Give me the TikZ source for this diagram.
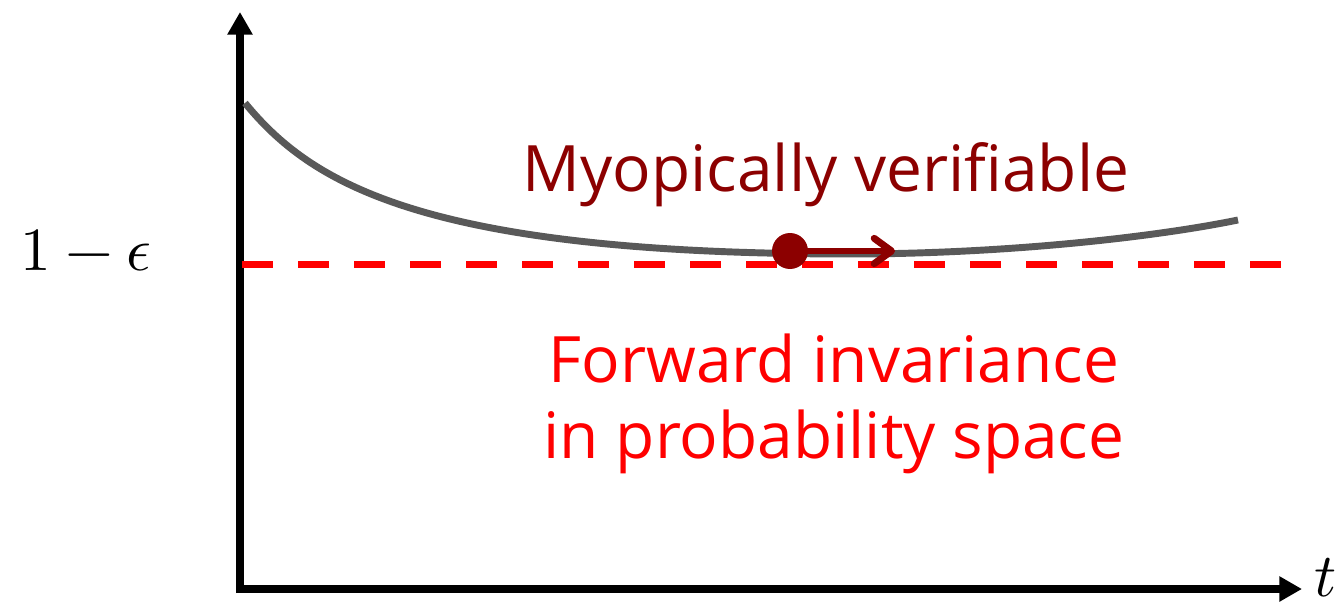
\documentclass[tikz,border=0pt]{standalone}
\usepackage{fontspec}
\usepackage{unicode-math}
\setmainfont{Open Sans}
\setmathfont{Latin Modern Math}
\usetikzlibrary{arrows.meta}
\definecolor{darkred}{RGB}{140,0,0}
\definecolor{curvegray}{RGB}{89,89,89}
\definecolor{brightred}{RGB}{255,0,0}
\tikzset{
  axis/.style={line width=6pt, -{Triangle[length=17pt,width=18pt]}},
  curve/.style={line width=5.2pt, curvegray},
  threshold/.style={line width=5.5pt, brightred, dash pattern=on 23.5pt off 18.5pt},
  bigtext/.style={font=\fontsize{48}{52}\selectfont, inner sep=0pt, anchor=base},
  mathlabel/.style={font=\fontsize{46}{50}\selectfont, inner sep=0pt, anchor=base},
  mover/.style={line width=5.2pt, darkred, line cap=round, line join=round, -{Straight Barb[length=13pt,width=19pt,line cap=round,line join=round]}}
}
\begin{document}
\begin{tikzpicture}[x=0.75pt,y=-0.75pt]
\useasboundingbox (0,0) rectangle (1342,606);
% axes
\coordinate (ytop) at (240,12);
\coordinate (xend) at (1302,589);
\coordinate (ybottom) at (240,593);
\coordinate (xstart) at (236,589);
\draw[axis] (ybottom) -- (ytop);
\draw[axis] (xstart) -- (xend);
% threshold
\coordinate (dl) at (242,264.5);
\coordinate (dr) at (1282,264.5);
\draw[threshold] (dl) -- (dr);
% curve
\coordinate (c0) at (245,103);
\coordinate (cm) at (850,254);
\coordinate (c1) at (1238,220);
\draw[curve] (c0) .. controls (310,182) and (420,254) .. (cm)
                  .. controls (1000,254) and (1150,238) .. (c1);
% moving point
\node[circle, fill=darkred, minimum size=27pt, inner sep=0pt] (dot) at (790,251) {};
\coordinate (arrowtip) at (895,251);
\draw[mover] (dot.center) -- (arrowtip);
% labels
\node[bigtext, text=darkred] (myopic) at (826,192) {Myopically verifiable};
\node[bigtext, text=brightred] (fwd1) at (834,382) {Forward invariance};
\node[bigtext, text=brightred] (fwd2) at (834,458) {in probability space};
\node[mathlabel] (eps) at (86,270) {$1-\epsilon$};
\node[mathlabel] (tlab) at (1326,596) {$t$};
\end{tikzpicture}
\end{document}
